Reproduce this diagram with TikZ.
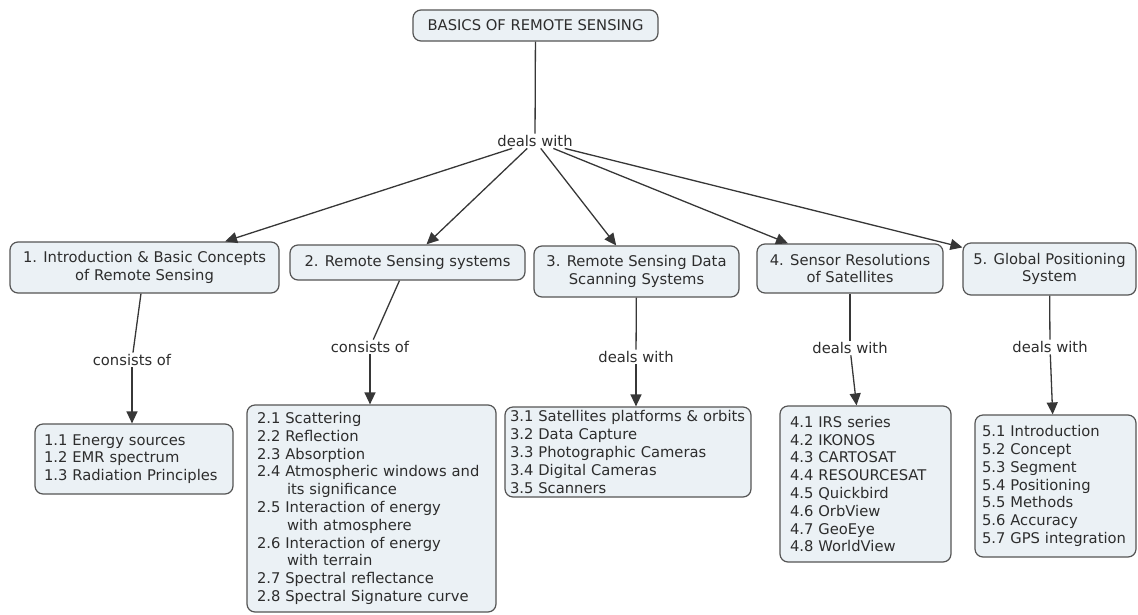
\documentclass[tikz,border=0pt]{standalone}
\usepackage{fontspec}
\setmainfont{DejaVu Sans}
\usetikzlibrary{arrows.meta}
\definecolor{boxfill}{RGB}{235,241,245}
\definecolor{boxline}{RGB}{85,85,85}
\definecolor{txt}{RGB}{45,45,45}
\definecolor{link}{RGB}{55,55,55}
\tikzset{
  base/.style={font=\fontsize{14.75}{17.8}\selectfont, text=txt},
  box/.style={base, draw=boxline, fill=boxfill, rounded corners=8pt, line width=1.2pt, inner sep=0pt},
  topbox/.style={box, align=center},
  listbox/.style={box, align=left},
  lbl/.style={base, fill=white, inner sep=1.5pt},
  conn/.style={draw=link, line width=1.3pt},
  arr/.style={conn, -{Triangle[length=12pt,width=11pt]}}
}
\begin{document}
\begin{tikzpicture}[x=1pt,y=-1pt]
\useasboundingbox (0,0) rectangle (1138,614);
% top
\node[topbox, minimum width=245pt, minimum height=31pt] (root) at (535.5,25.5) {BASICS OF REMOTE SENSING};
\node[lbl] (dw) at (535,141) {deals with};
% level 1
\node[topbox, minimum width=269pt, minimum height=51pt] (b1) at (144.5,267.5) {1. Introduction \& Basic Concepts\\of Remote Sensing};
\node[topbox, minimum width=235pt, minimum height=35pt] (b2) at (407.5,262.5) {2. Remote Sensing systems};
\node[topbox, minimum width=205pt, minimum height=51pt] (b3) at (636.5,271.5) {3. Remote Sensing Data\\Scanning Systems};
\node[topbox, minimum width=186pt, minimum height=49pt] (b4) at (850,268.5) {4. Sensor Resolutions\\of Satellites};
\node[topbox, minimum width=173pt, minimum height=52pt] (b5) at (1049.5,269) {5. Global Positioning\\System};
% labels
\node[lbl] (l1) at (132,360) {consists of};
\node[lbl] (l2) at (370,347) {consists of};
\node[lbl] (l3) at (636,357) {deals with};
\node[lbl] (l4) at (850,348) {deals with};
\node[lbl] (l5) at (1050,347) {deals with};
% level 2
\node[listbox, minimum width=198pt, minimum height=70pt, text width=180pt] (b11) at (134,459)
  {1.1 Energy sources\\1.2 EMR spectrum\\1.3 Radiation Principles};
\node[listbox, minimum width=249pt, minimum height=207pt, text width=229pt] (b2x) at (371.5,508.5)
  {2.1 Scattering\\2.2 Reflection\\2.3 Absorption\\2.4 Atmospheric windows and\\\hspace*{30pt}its significance\\2.5 Interaction of energy\\\hspace*{30pt}with atmosphere\\2.6 Interaction of energy\\\hspace*{30pt}with terrain\\2.7 Spectral reflectance\\2.8 Spectral Signature curve};
\node[listbox, minimum width=246pt, minimum height=90pt, text width=236pt] (b3x) at (628,452)
  {3.1 Satellites platforms \& orbits\\3.2 Data Capture\\3.3 Photographic Cameras\\3.4 Digital Cameras\\3.5 Scanners};
\node[listbox, minimum width=171pt, minimum height=156pt, text width=151pt] (b4x) at (865.5,484)
  {4.1 IRS series\\4.2 IKONOS\\4.3 CARTOSAT\\4.4 RESOURCESAT\\4.5 Quickbird\\4.6 OrbView\\4.7 GeoEye\\4.8 WorldView};
\node[listbox, minimum width=161pt, minimum height=142pt, text width=147pt] (b5x) at (1055.5,486)
  {5.1 Introduction\\5.2 Concept\\5.3 Segment\\5.4 Positioning\\5.5 Methods\\5.6 Accuracy\\5.7 GPS integration};
% connectors
\draw[conn] (root) -- (dw);
\draw[arr] (dw) -- (b1);
\draw[arr] (dw) -- (b2);
\draw[arr] (dw) -- (b3);
\draw[arr] (dw) -- (b4);
\draw[arr] (dw) -- (b5);
\draw[conn] (b1) -- (l1);
\draw[arr] (l1.south) -- (l1.south |- b11.north);
\draw[conn] (b2) -- (l2);
\draw[arr] (l2.south) -- (l2.south |- b2x.north);
\draw[conn] (b3) -- (l3);
\draw[arr] (l3.south) -- (l3.south |- b3x.north);
\draw[conn] (b4) -- (l4);
\draw[arr] (l4) -- (b4x);
\draw[conn] (b5) -- (l5);
\draw[arr] (l5) -- (b5x);
\end{tikzpicture}
\end{document}
